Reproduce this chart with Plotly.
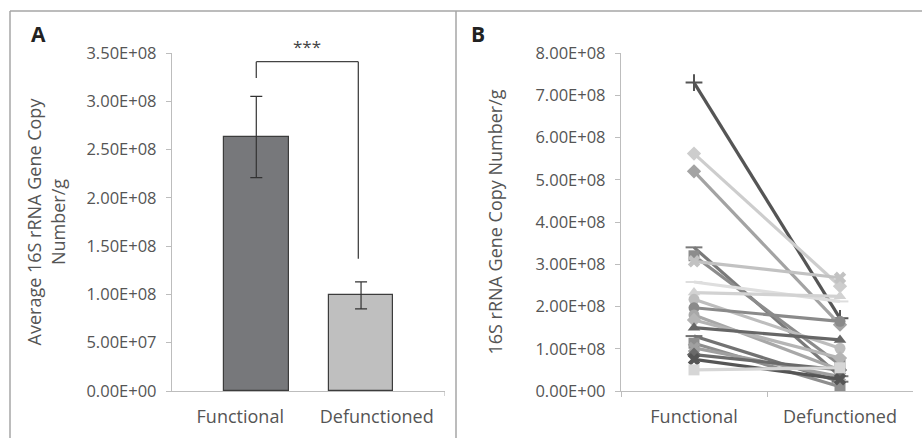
import plotly.graph_objects as go

# ---------------- data ----------------
categories = ["Functional", "Defunctioned"]

# Panel A: mean copy numbers and error bars
bar_means = [2.63e8, 0.99e8]
bar_err_plus = [0.42e8, 0.14e8]
bar_err_minus = [0.42e8, 0.14e8]
a_tick_vals = [0, 5e7, 1e8, 1.5e8, 2e8, 2.5e8, 3e8, 3.5e8]
a_tick_text = ["0.00E+00", "5.00E+07", "1.00E+08", "1.50E+08", "2.00E+08",
               "2.50E+08", "3.00E+08", "3.50E+08"]
signif_label = "***"
bracket_top = 3.41e8
bracket_left_bottom = 3.24e8
bracket_right_bottom = 1.37e8

# Panel B: paired samples (Functional -> Defunctioned)
functional_vals = [7.30e8, 5.62e8, 5.20e8, 3.40e8, 3.20e8, 3.07e8, 2.58e8, 2.33e8,
                   2.17e8, 1.97e8, 1.80e8, 1.68e8, 1.50e8, 1.30e8, 1.13e8, 1.02e8,
                   0.86e8, 0.75e8, 0.50e8]
defunctioned_vals = [1.72e8, 2.48e8, 1.57e8, 0.35e8, 0.62e8, 2.68e8, 2.12e8, 2.24e8,
                     1.01e8, 1.65e8, 0.50e8, 0.78e8, 1.21e8, 0.22e8, 0.10e8, 0.34e8,
                     0.50e8, 0.28e8, 0.55e8]
b_tick_vals = [0, 1e8, 2e8, 3e8, 4e8, 5e8, 6e8, 7e8, 8e8]
b_tick_text = ["0.00E+00", "1.00E+08", "2.00E+08", "3.00E+08", "4.00E+08",
               "5.00E+08", "6.00E+08", "7.00E+08", "8.00E+08"]

# ---------------- styles ----------------
series_colors = ["#555555", "#cdcdcd", "#a3a3a3", "#7a7a7a", "#8c8c8c", "#c2c2c2",
                 "#dedede", "#d2d2d2", "#bdbdbd", "#8a8a8a", "#a8a8a8", "#b5b5b5",
                 "#666666", "#727272", "#8e8e8e", "#a0a0a0", "#6a6a6a", "#555555",
                 "#d6d6d6"]
series_symbols = ["cross-thin", "diamond", "diamond", "line-ew", "square", "x",
                  "line-ew", "triangle-up", "circle", "circle", "circle", "diamond",
                  "triangle-up", "line-ew", "square", "x", "diamond", "x", "square"]

W, H = 922, 438
FONT = "Open Sans"
TICK_COLOR = "#555555"
AXIS_COLOR = "#bdbdbd"


def px_x(x):
    return x / W


def px_y(y):
    return 1 - y / H


fig = go.Figure()

# Panel A bars
fig.add_trace(go.Bar(
    x=categories, y=bar_means,
    xaxis="x", yaxis="y",
    width=[0.475, 0.47],
    offset=[-0.12, -0.35],
    marker=dict(color=["#77787b", "#bfbfbf"], line=dict(color="#3c3c3c", width=1.2)),
    error_y=dict(type="data", array=bar_err_plus, arrayminus=bar_err_minus,
                 color="#333333", thickness=1.2, width=6),
    showlegend=False,
))

# Panel B paired lines
for i in range(len(functional_vals)):
    sym = series_symbols[i]
    col = series_colors[i]
    open_like = sym in ("cross-thin", "line-ew", "x-thin")
    fig.add_trace(go.Scatter(
        x=categories, y=[functional_vals[i], defunctioned_vals[i]],
        xaxis="x2", yaxis="y2",
        mode="lines+markers",
        line=dict(color=col, width=3.2),
        marker=dict(symbol=sym, size=12 if open_like else 11, color=col,
                    line=dict(color=col, width=2 if open_like else 0)),
        showlegend=False,
    ))

yd = [px_y(391), px_y(53)]

line_common = dict(showline=True, linecolor=AXIS_COLOR, linewidth=1.3,
                   showgrid=False, zeroline=False, automargin=False)
ytick_font = dict(family=FONT, size=16.5, color=TICK_COLOR)
xtick_font = dict(family=FONT, size=18, color=TICK_COLOR)
title_font = dict(family=FONT, size=18, color=TICK_COLOR)

fig.update_layout(
    width=W, height=H, autosize=False,
    margin=dict(l=0, r=0, t=0, b=0, pad=0),
    paper_bgcolor="white", plot_bgcolor="white",
    showlegend=False,
    bargap=0,
    xaxis=dict(domain=[px_x(172), px_x(445)], type="category",
               range=[-0.5, 1.5], anchor="y", ticks="",
               ticklabelstandoff=9, tickfont=xtick_font, **line_common),
    yaxis=dict(domain=yd, range=[0, 3.5e8], anchor="x",
               tickvals=a_tick_vals, ticktext=a_tick_text,
               ticks="outside", ticklen=5, tickcolor=AXIS_COLOR,
               ticklabelstandoff=6, tickfont=ytick_font,
               title=dict(text="Average 16S rRNA Gene Copy<br>Number/g",
                          font=title_font, standoff=16),
               **line_common),
    xaxis2=dict(domain=[px_x(621), px_x(913)], type="category",
                range=[-0.5, 1.5], anchor="y2", ticks="outside",
                tickson="boundaries", ticklen=5, tickcolor=AXIS_COLOR,
                ticklabelstandoff=9, tickfont=xtick_font, **line_common),
    yaxis2=dict(domain=yd, range=[0, 8e8], anchor="x2",
                tickvals=b_tick_vals, ticktext=b_tick_text,
                ticks="outside", ticklen=5, tickcolor=AXIS_COLOR,
                ticklabelstandoff=6, tickfont=ytick_font,
                title=dict(text="16S rRNA Gene Copy Number/g",
                           font=title_font, standoff=28),
                **line_common),
)

# significance bracket (panel A), in data coordinates
bx_left = -0.12 + 0.475 / 2
bx_right = 1 - 0.35 + 0.47 / 2 - 0.02
br_line = dict(color="#444444", width=1.3)
fig.add_shape(type="line", xref="x", yref="y", x0=bx_left, x1=bx_left,
              y0=bracket_left_bottom, y1=bracket_top, line=br_line)
fig.add_shape(type="line", xref="x", yref="y", x0=bx_left, x1=bx_right,
              y0=bracket_top, y1=bracket_top, line=br_line)
fig.add_shape(type="line", xref="x", yref="y", x0=bx_right, x1=bx_right,
              y0=bracket_right_bottom, y1=bracket_top, line=br_line)
fig.add_annotation(xref="x", yref="y", x=(bx_left + bx_right) / 2, y=bracket_top,
                   text=signif_label, showarrow=False, yanchor="bottom", yshift=2,
                   font=dict(family=FONT, size=17, color="#444444"))

# right-end tick of panel A x axis
fig.add_shape(type="line", xref="x", yref="paper", x0=1.5, x1=1.5,
              y0=px_y(391), y1=px_y(396), line=dict(color=AXIS_COLOR, width=1.3))

# frame lines
frame = dict(color="#a6a6a6", width=1.5)
fig.add_shape(type="line", xref="paper", yref="paper", x0=px_x(10), x1=1,
              y0=px_y(11), y1=px_y(11), line=frame)
fig.add_shape(type="line", xref="paper", yref="paper", x0=px_x(10), x1=px_x(10),
              y0=0, y1=px_y(11), line=frame)
fig.add_shape(type="line", xref="paper", yref="paper", x0=px_x(456), x1=px_x(456),
              y0=0, y1=px_y(11), line=frame)

# panel letters
fig.add_annotation(xref="paper", yref="paper", x=px_x(38), y=px_y(34), text="<b>A</b>",
                   showarrow=False, xanchor="center", yanchor="middle",
                   font=dict(family=FONT, size=21, color="#222222"))
fig.add_annotation(xref="paper", yref="paper", x=px_x(478), y=px_y(34), text="<b>B</b>",
                   showarrow=False, xanchor="center", yanchor="middle",
                   font=dict(family=FONT, size=21, color="#222222"))

fig.write_html("out.html",
               config={"displayModeBar": False},
               post_script="document.body.style.margin='0px';"
                           "document.body.style.overflow='hidden';")
